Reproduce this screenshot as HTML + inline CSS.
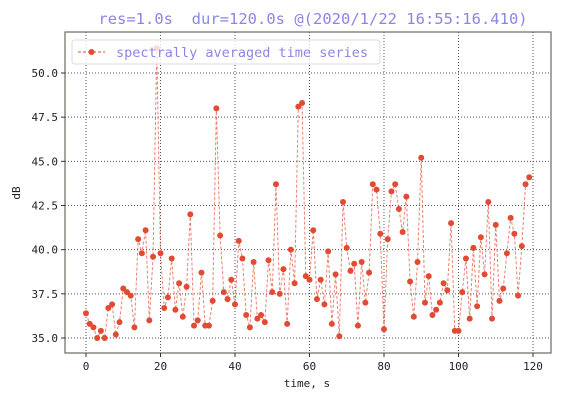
<!DOCTYPE html>
<html><head><meta charset="utf-8"><style>
body{margin:0;background:#fff;}
svg{display:block;font-family:"DejaVu Sans Mono","Liberation Mono",monospace;}
</style></head><body>
<svg id="chart" width="565" height="400">
<text x="313" y="24" text-anchor="middle" font-size="15.5" fill="#8c85e6" style="white-space:pre">res=1.0s  dur=120.0s @(2020/1/22 16:55:16.410)</text>
<rect x="65" y="32" width="486" height="321" fill="#fff" stroke="#6b6b60" stroke-width="1.2"/>
<g id="grid"></g><g id="axes"></g><g id="series"></g>
<g>
<rect x="72" y="40" width="308" height="24" rx="3" fill="#fff" fill-opacity="0.8" stroke="#ddd"/>
<line x1="78" y1="52" x2="105" y2="52" stroke="#e24a33" stroke-dasharray="3,2" stroke-width="1"/>
<circle cx="91.5" cy="52" r="3" fill="#e24a33"/>
<text x="116" y="57" font-size="13.5" fill="#8c85e6">spectrally averaged time series</text>
</g>
<text x="307" y="387" text-anchor="middle" font-size="11" fill="#222">time, s</text>
<text x="20" y="193" text-anchor="middle" font-size="11" fill="#222" transform="rotate(-90 20 193)">dB</text>
</svg>
<script>
const values=[36.4,35.8,35.6,35.0,35.4,35.0,36.7,36.9,35.2,35.9,37.8,37.6,37.4,35.6,40.6,39.8,41.1,36.0,39.6,51.4,
39.8,36.7,37.3,39.5,36.6,38.1,36.2,37.9,42.0,35.7,36.0,38.7,35.7,35.7,37.1,48.0,40.8,37.6,37.2,38.3,
36.9,40.5,39.5,36.3,35.6,39.3,36.1,36.3,35.9,39.4,37.6,43.7,37.5,38.9,35.8,40.0,38.1,48.1,48.3,38.5,
38.3,41.1,37.2,38.3,36.9,39.9,35.8,38.6,35.1,42.7,40.1,38.8,39.2,35.7,39.3,37.0,38.7,43.7,43.4,40.9,
35.5,40.6,43.3,43.7,42.3,41.0,43.0,38.2,36.2,39.3,45.2,37.0,38.5,36.3,36.6,37.0,38.1,37.7,41.5,35.4,
35.4,37.6,39.5,36.1,40.1,36.8,40.7,38.6,42.7,36.1,41.4,37.1,37.8,39.8,41.8,40.9,37.4,40.2,43.7,44.1];
const xTicks=[0,20,40,60,80,100,120];
const yTicks=[35.0,37.5,40.0,42.5,45.0,47.5,50.0];
const X=v=>86+v*(533-86)/120;
const Y=v=>338-(v-35)*(338-73)/15;
const NS="http://www.w3.org/2000/svg";
function mk(t,a,p){const e=document.createElementNS(NS,t);for(const k in a)e.setAttribute(k,a[k]);p.appendChild(e);return e;}
const grid=document.getElementById('grid'),axes=document.getElementById('axes'),ser=document.getElementById('series');
xTicks.forEach(t=>{
 const g=mk('line',{x1:X(t),x2:X(t),y1:32,y2:353,stroke:'#555','stroke-dasharray':'1,2','stroke-width':1},grid);
 
 
 mk('line',{x1:X(t),x2:X(t),y1:353,y2:357,stroke:'#333'},axes);
 const l=mk('text',{x:X(t),y:370,'text-anchor':'middle','font-size':11,fill:'#222'},axes);
 l.textContent=t;
 
 
});
yTicks.forEach(t=>{
 const g=mk('line',{x1:65,x2:551,y1:Y(t),y2:Y(t),stroke:'#555','stroke-dasharray':'1,2','stroke-width':1},grid);
 
 
 mk('line',{x1:61,x2:65,y1:Y(t),y2:Y(t),stroke:'#333'},axes);
 const l=mk('text',{x:58,y:Y(t)+4,'text-anchor':'end','font-size':11,fill:'#222'},axes);
 l.textContent=t.toFixed(1);
 
 
});
const pl=mk('polyline',{points:values.map((v,i)=>X(i)+','+Y(v)).join(' '),fill:'none',stroke:'#e24a33','stroke-opacity':0.7,'stroke-dasharray':'3,2','stroke-width':1},ser);


values.forEach((v,i)=>{
 const c=mk('circle',{cx:X(i),cy:Y(v),r:3,fill:'#e24a33'},ser);
 
 
});
</script>
</body></html>
